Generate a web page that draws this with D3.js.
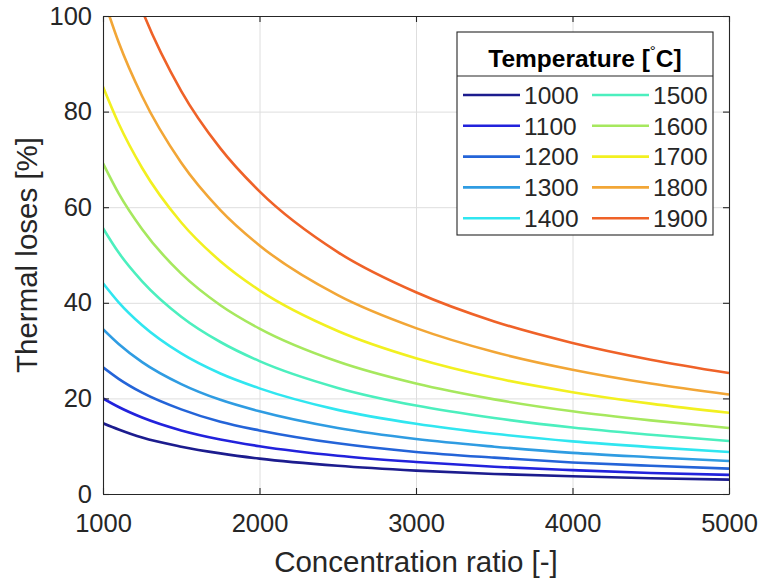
<!DOCTYPE html>
<html>
<head>
<meta charset="utf-8">
<script src="https://cdn.jsdelivr.net/npm/d3@7"></script>
<style>
  html, body { margin: 0; padding: 0; background: #ffffff; }
  svg { display: block; font-family: "Liberation Sans", Arial, Helvetica, sans-serif; }
</style>
</head>
<body>
<svg id="chart" width="761" height="581"></svg>
<script>
// ---- data ----
const concentration = [1000, 1100, 1250, 1500, 1750, 2000, 2500, 3000, 3500, 4000, 4500, 5000];
const temperatures = [1000, 1100, 1200, 1300, 1400, 1500, 1600, 1700, 1800, 1900];
const loss1000 = [14.8, 13.5, 11.8, 9.9, 8.5, 7.4, 5.9, 4.9, 4.2, 3.7, 3.3, 3.0];
const loss1100 = [20.0, 18.2, 16.0, 13.3, 11.4, 10.0, 8.0, 6.7, 5.7, 5.0, 4.4, 4.0];
const loss1200 = [26.5, 24.1, 21.2, 17.7, 15.1, 13.3, 10.6, 8.8, 7.6, 6.6, 5.9, 5.3];
const loss1300 = [34.5, 31.4, 27.6, 23.0, 19.7, 17.3, 13.8, 11.5, 9.9, 8.6, 7.7, 6.9];
const loss1400 = [44.1, 40.1, 35.3, 29.4, 25.2, 22.1, 17.6, 14.7, 12.6, 11.0, 9.8, 8.8];
const loss1500 = [55.6, 50.5, 44.5, 37.1, 31.8, 27.8, 22.2, 18.5, 15.9, 13.9, 12.4, 11.1];
const loss1600 = [69.2, 62.9, 55.4, 46.1, 39.5, 34.6, 27.7, 23.1, 19.8, 17.3, 15.4, 13.8];
const loss1700 = [85.2, 77.5, 68.2, 56.8, 48.7, 42.6, 34.1, 28.4, 24.3, 21.3, 18.9, 17.0];
const loss1800 = [104.0, 94.5, 83.2, 69.3, 59.4, 52.0, 41.6, 34.7, 29.7, 26.0, 23.1, 20.8];
const loss1900 = [126.5, 115.0, 101.2, 84.3, 72.3, 63.3, 50.6, 42.2, 36.1, 31.6, 28.1, 25.3];
const seriesValues = [loss1000, loss1100, loss1200, loss1300, loss1400, loss1500, loss1600, loss1700, loss1800, loss1900];
const seriesColors = ["#1c1c8e", "#2222dc", "#2464d8", "#2f9ce2", "#30e6f0", "#4cefbe", "#a6e85e", "#f2f020", "#f2a636", "#ef6228"];
const xTicks = [1000, 2000, 3000, 4000, 5000];
const yTicks = [0, 20, 40, 60, 80, 100];
const xLabel = "Concentration ratio [-]";
const yLabel = "Thermal loses [%]";
const legendTitle = "Temperature [";

// ---- layout ----
const svg = d3.select("#chart");
const L = 103, R = 729, T = 16, B = 494;
const W = R - L, H = B - T;
const textColor = "#262626";

const x = d3.scaleLinear().domain([1000, 5000]).range([L, R]);
const y = d3.scaleLinear().domain([0, 100]).range([B, T]);

// grid
const grid = svg.append("g").attr("class", "grid");
grid.append("g").attr("transform", `translate(0,${B})`)
  .call(d3.axisBottom(x).tickValues(xTicks).tickSize(-H).tickFormat(""))
  .call(g => g.select(".domain").remove())
  .call(g => g.selectAll("line").attr("stroke", "#dedede").attr("stroke-width", 1));
grid.append("g").attr("transform", `translate(${L},0)`)
  .call(d3.axisLeft(y).tickValues(yTicks).tickSize(-W).tickFormat(""))
  .call(g => g.select(".domain").remove())
  .call(g => g.selectAll("line").attr("stroke", "#dedede").attr("stroke-width", 1));

// clip
svg.append("defs").append("clipPath").attr("id", "plotclip")
  .append("rect").attr("x", L).attr("y", T).attr("width", W).attr("height", H);

// curves
const line = d3.line()
  .x((d, i) => x(concentration[i]))
  .y(d => y(d))
  .curve(d3.curveMonotoneX);

svg.append("g").attr("clip-path", "url(#plotclip)")
  .selectAll("path").data(seriesValues).join("path")
  .attr("d", d => line(d))
  .attr("fill", "none")
  .attr("stroke", (d, i) => seriesColors[i])
  .attr("stroke-width", 2.6)
  .attr("stroke-linejoin", "round");

// axes
const tickLen = 6;
const styleAxis = g => {
  g.select(".domain").attr("stroke", textColor).attr("stroke-width", 1.1);
  g.selectAll(".tick line").attr("stroke", textColor).attr("stroke-width", 1.1);
  g.selectAll(".tick text").attr("fill", textColor).attr("font-size", 25.5);
};
svg.append("g").attr("transform", `translate(0,${B})`)
  .call(d3.axisBottom(x).tickValues(xTicks).tickSizeInner(-tickLen).tickSizeOuter(0).tickPadding(20).tickFormat(d3.format("d")))
  .call(styleAxis)
  .call(g => g.selectAll(".tick text").attr("dy", "0.71em"));
svg.append("g").attr("transform", `translate(0,${T})`)
  .call(d3.axisTop(x).tickValues(xTicks).tickSizeInner(-tickLen).tickSizeOuter(0).tickFormat(""))
  .call(styleAxis);
svg.append("g").attr("transform", `translate(${L},0)`)
  .call(d3.axisLeft(y).tickValues(yTicks).tickSizeInner(-tickLen).tickSizeOuter(0).tickPadding(11).tickFormat(d3.format("d")))
  .call(styleAxis);
svg.append("g").attr("transform", `translate(${R},0)`)
  .call(d3.axisRight(y).tickValues(yTicks).tickSizeInner(-tickLen).tickSizeOuter(0).tickFormat(""))
  .call(styleAxis);

// axis labels
svg.append("text")
  .attr("x", (L + R) / 2).attr("y", 572)
  .attr("text-anchor", "middle").attr("fill", textColor)
  .attr("font-size", 29.5).text(xLabel);
svg.append("text")
  .attr("transform", `translate(37,${(T + B) / 2}) rotate(-90)`)
  .attr("text-anchor", "middle").attr("fill", textColor)
  .attr("font-size", 29.5).text(yLabel);

// legend
const lg = svg.append("g");
const lx0 = 457, ly0 = 32, lw = 256, lh = 203, sepY = 76;
lg.append("rect").attr("x", lx0).attr("y", ly0).attr("width", lw).attr("height", lh)
  .attr("fill", "#ffffff").attr("stroke", textColor).attr("stroke-width", 1.1);
lg.append("line").attr("x1", lx0).attr("x2", lx0 + lw).attr("y1", sepY).attr("y2", sepY)
  .attr("stroke", textColor).attr("stroke-width", 1.1);
const title = lg.append("text")
  .attr("x", lx0 + lw / 2).attr("y", 67)
  .attr("text-anchor", "middle").attr("fill", "#000000")
  .attr("font-size", 24.5).attr("font-weight", "bold");
title.append("tspan").text(legendTitle);
title.append("tspan").attr("font-size", 15).attr("font-weight", "normal").attr("dy", -11).text("\u00B0");
title.append("tspan").attr("dy", 11).text("C]");

const rowY0 = 95, rowStep = 30.8;
temperatures.forEach((t, i) => {
  const col = Math.floor(i / 5), row = i % 5;
  const lx = col === 0 ? 463 : 592;
  const ry = rowY0 + row * rowStep;
  lg.append("line").attr("x1", lx).attr("x2", lx + 57).attr("y1", ry).attr("y2", ry)
    .attr("stroke", seriesColors[i]).attr("stroke-width", 2.6);
  lg.append("text").attr("x", lx + 61).attr("y", ry + 8.8)
    .attr("fill", textColor).attr("font-size", 24.5).text(t);
});
</script>
</body>
</html>
